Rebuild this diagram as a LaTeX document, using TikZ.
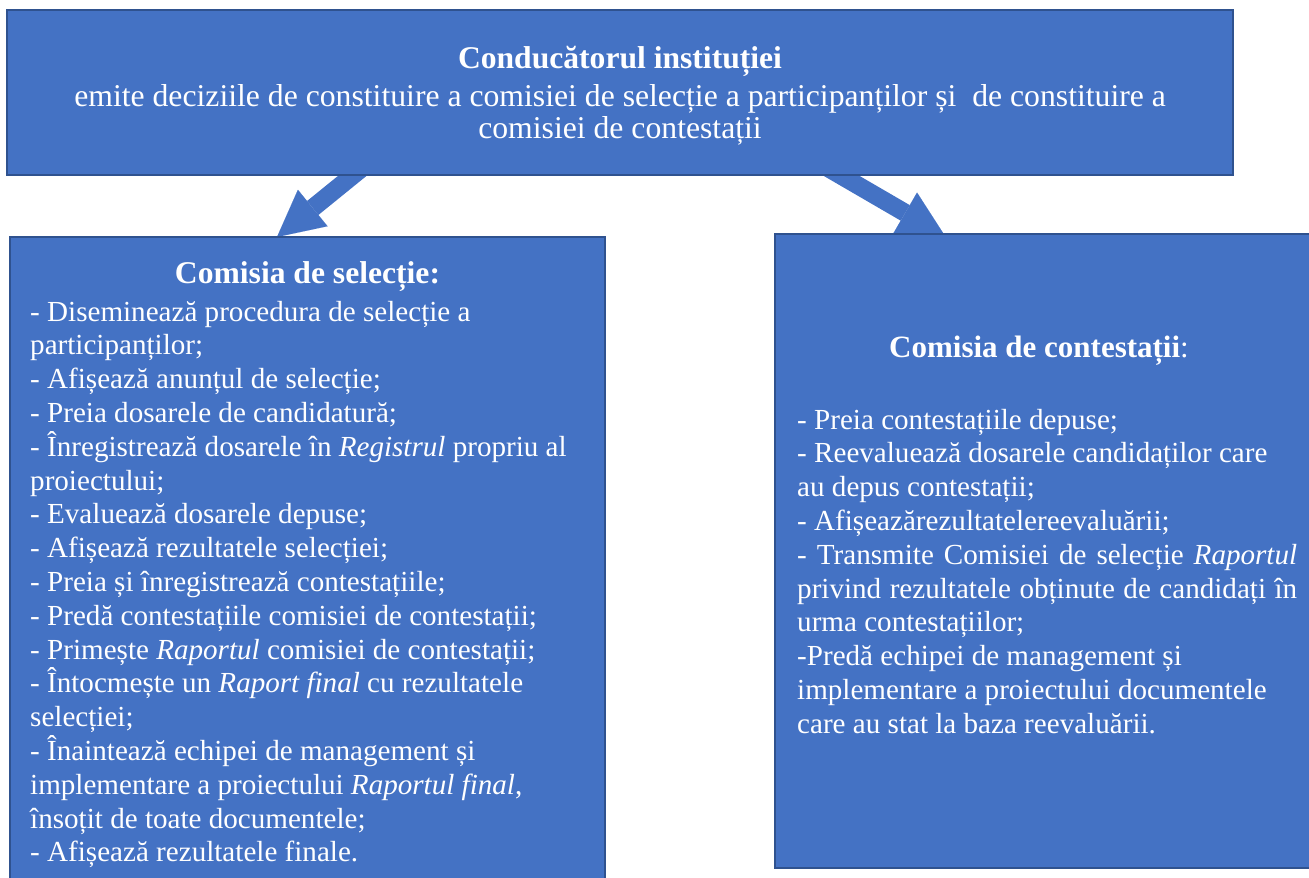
\documentclass[tikz,border=0pt]{standalone}
\usepackage{fontspec}
\setmainfont{Liberation Serif}
\usetikzlibrary{arrows.meta}
\definecolor{boxfill}{HTML}{4472C4}
\definecolor{boxline}{HTML}{2F528F}
\begin{document}
\begin{tikzpicture}[x=1pt,y=-1pt,
  box/.style={draw=boxline, line width=2pt, fill=boxfill, inner sep=0pt, outer sep=0pt, anchor=north west},
  body/.style={text=white, inner sep=0pt, font=\fontsize{29.1}{33.8}\selectfont},
  titletext/.style={text=white, inner sep=0pt, font=\fontsize{31.6}{34}\selectfont\bfseries, anchor=base},
  blockarrow/.style={draw=boxfill, line width=18pt, -{Triangle[length=46pt, width=47pt, line width=0.01pt]}}]
\useasboundingbox (0,0) rectangle (1309,878);
% arrows (under the boxes)
\coordinate (la1) at (362,168);
\coordinate (la2) at (277,237);
\coordinate (ra1) at (828,168);
\coordinate (ra2) at (945,236);
\draw[blockarrow] (la1) -- (la2);
\draw[blockarrow] (ra1) -- (ra2);
% boxes
\node[box, minimum width=1226pt, minimum height=165pt] (top) at (7,10) {};
\node[box, minimum width=595pt, minimum height=660pt] (sel) at (10,237) {};
\node[box, minimum width=545pt, minimum height=634pt] (con) at (775,234) {};
% top text
\node[titletext] (toptitle) at (620,68) {Conducătorul instituției};
\node[text=white, inner sep=0pt, font=\fontsize{31.7}{32}\selectfont, align=center, anchor=north] (toptext) at (620,83.6) {\strut emite deciziile de constituire a comisiei de selecție a participanților și \ de constituire a\\comisiei de contestații};
% left box text
\node[titletext] (seltitle) at (307.5,283) {Comisia de selecție:};
\node[body, align=left, anchor=north west] (seltext) at (30,297.3) {\strut - Diseminează procedura de selecție a\\
participanților;\\
- Afișează anunțul de selecție;\\
- Preia dosarele de candidatură;\\
- Înregistrează dosarele în \textit{Registrul} propriu al\\
proiectului;\\
- Evaluează dosarele depuse;\\
- Afișează rezultatele selecției;\\
- Preia și înregistrează contestațiile;\\
- Predă contestațiile comisiei de contestații;\\
- Primește \textit{Raportul} comisiei de contestații;\\
- Întocmește un \textit{Raport final} cu rezultatele\\
selecției;\\
- Înaintează echipei de management și\\
implementare a proiectului \textit{Raportul final},\\
însoțit de toate documentele;\\
- Afișează rezultatele finale.};
% right box text
\node[text=white, inner sep=0pt, font=\fontsize{31}{34}\selectfont, anchor=base] (contitle) at (1039,357) {\textbf{Comisia de contestații}:};
\node[body, align=left, anchor=north west] (context) at (797,405.3) {\strut - Preia contestațiile depuse;\\
- Reevaluează dosarele candidaților care\\
au depus contestații;\\
- Afișeazărezultatelereevaluării;\\
\makebox[500pt][s]{- Transmite Comisiei de selecție \textit{Raportul}}\\
\makebox[500pt][s]{privind rezultatele obținute de candidați în}\\
urma contestațiilor;\\
-Predă echipei de management și\\
implementare a proiectului documentele\\
care au stat la baza reevaluării.};
\end{tikzpicture}
\end{document}
